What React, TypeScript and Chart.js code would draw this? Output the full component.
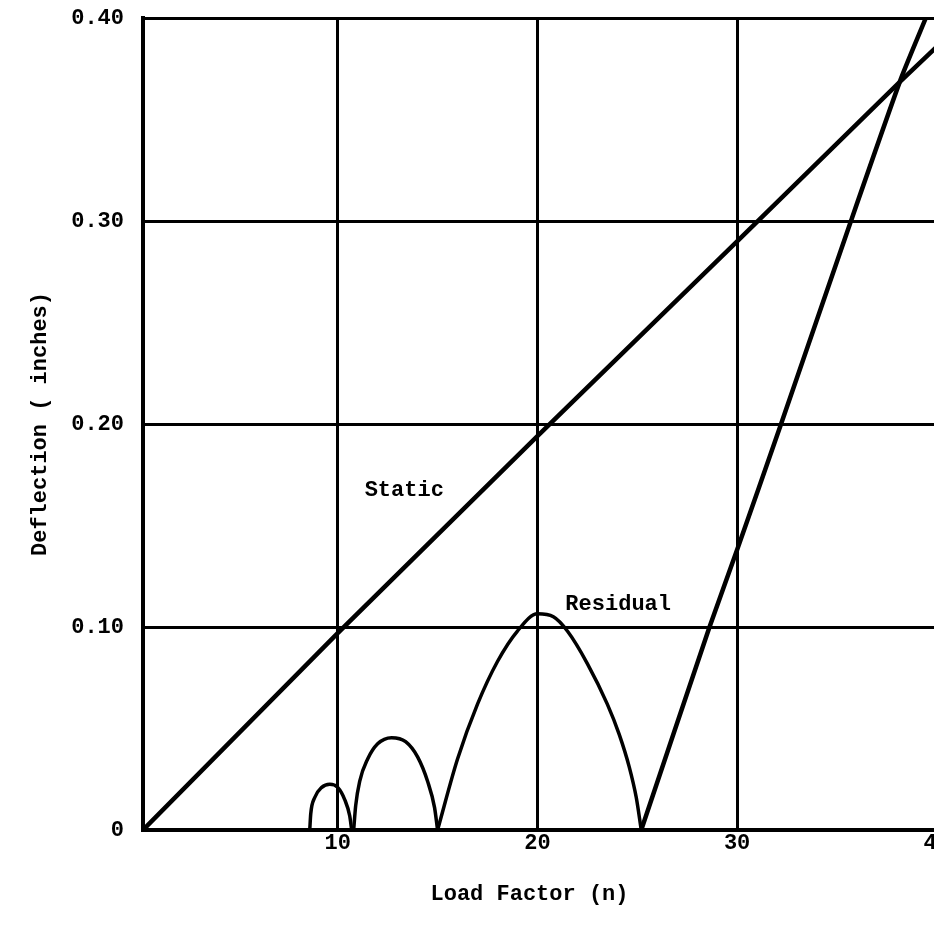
import React, { useEffect, useRef } from "react";
import { Chart, registerables } from "chart.js";

Chart.register(...registerables);

// ---- Data ----
const staticX = [0.25, 10, 20, 30, 38.2, 40.66];
const staticY = [0, 0.097, 0.194, 0.29, 0.369, 0.392];

const arch1X = [8.6, 8.65, 8.85, 9.2, 9.6, 10.0, 10.35, 10.6, 10.7];
const arch1Y = [0, 0.008, 0.016, 0.021, 0.0225, 0.021, 0.015, 0.007, 0];

const arch2X = [10.8, 10.9, 11.1, 11.5, 12.0, 12.7, 13.4, 14.0, 14.5, 14.85, 15.0];
const arch2Y = [0, 0.012, 0.024, 0.035, 0.0425, 0.0455, 0.0435, 0.036, 0.024, 0.011, 0];

const arch3X = [15.0, 16.0, 17.0, 18.0, 19.0, 20.0, 20.8, 21.5, 22.5, 23.5, 24.1, 24.6, 24.95, 25.2];
const arch3Y = [0, 0.035, 0.062, 0.083, 0.098, 0.1065, 0.105, 0.098, 0.082, 0.062, 0.047, 0.031, 0.016, 0];

const riseX = [25.2, 28.6, 30.0, 32.2, 35.7, 38.2, 39.45];
const riseY = [0, 0.0995, 0.138, 0.2, 0.3, 0.37, 0.4];

const xTickValues = [10, 20, 30, 40];
const xTickLabels = ["10", "20", "30", "40"];
const yTickValues = [0, 0.1, 0.2, 0.3, 0.4];
const yTickLabels = ["0", "0.10", "0.20", "0.30", "0.40"];

const curveLabels = ["Static", "Residual"];
const curveLabelX = [11.35, 21.4];
const curveLabelY = [0.1675, 0.111];

const xTitle = "Load Factor (n)";
const yTitle = "Deflection ( inches)";

const FONT = "'Liberation Mono', 'Courier New', monospace";
const INK = "#000000";
const WEIGHT = "bold";
const TEXT_FONT = `${WEIGHT} 22px ${FONT}`;

function pts(xs: number[], ys: number[]) {
  return xs.map((x, i) => ({ x, y: ys[i] }));
}

const textPlugin = {
  id: "textLayer",
  afterDatasetsDraw(chart: any) {
    const { ctx, scales, chartArea } = chart;
    ctx.save();
    ctx.fillStyle = INK;
    ctx.font = TEXT_FONT;
    ctx.textAlign = "left";
    ctx.textBaseline = "middle";
    curveLabels.forEach((t, i) => {
      ctx.fillText(t, scales.x.getPixelForValue(curveLabelX[i]), scales.y.getPixelForValue(curveLabelY[i]));
    });
    // axis titles
    ctx.textAlign = "center";
    ctx.fillText(xTitle, (chartArea.left + chartArea.right) / 2 - 17, chartArea.bottom + 64);
    ctx.translate(40, (chartArea.top + chartArea.bottom) / 2);
    ctx.rotate(-Math.PI / 2);
    ctx.fillText(yTitle, 0, 0);
    ctx.restore();
  },
};

export default function App() {
  const ref = useRef<HTMLCanvasElement | null>(null);
  useEffect(() => {
    if (!ref.current) return;
    const common = {
      borderColor: INK,
      backgroundColor: INK,
      pointRadius: 0,
      fill: false,
    };
    const chart = new Chart(ref.current, {
      type: "line",
      data: {
        datasets: [
          { ...common, label: "Static", data: pts(staticX, staticY), borderWidth: 4.5, tension: 0 },
          { ...common, label: "Residual 1", data: pts(arch1X, arch1Y), borderWidth: 3.5, cubicInterpolationMode: "monotone" },
          { ...common, label: "Residual 2", data: pts(arch2X, arch2Y), borderWidth: 3.5, cubicInterpolationMode: "monotone" },
          { ...common, label: "Residual 3", data: pts(arch3X, arch3Y), borderWidth: 3.5, cubicInterpolationMode: "monotone" },
          { ...common, label: "Residual 4", data: pts(riseX, riseY), borderWidth: 4.5, tension: 0.2 },
        ],
      },
      options: {
        animation: false,
        responsive: false,
        maintainAspectRatio: false,
        layout: { padding: { top: 18, right: 16, left: 0, bottom: 0 } },
        plugins: { legend: { display: false }, tooltip: { enabled: false } },
        scales: {
          x: {
            type: "linear",
            min: 0.25,
            max: 40.66,
            afterBuildTicks: (axis: any) => {
              axis.ticks = xTickValues.map((v) => ({ value: v }));
            },
            afterFit: (axis: any) => {
              axis.height = 97;
            },
            ticks: {
              color: INK,
              font: { family: FONT, size: 22, weight: WEIGHT },
              padding: 0,
              maxRotation: 0,
              autoSkip: false,
              callback: (v: any) => {
                const i = xTickValues.indexOf(Number(v));
                return i >= 0 ? xTickLabels[i] : "";
              },
            },
            grid: { color: INK, lineWidth: 3, drawTicks: false },
            border: { display: true, color: INK, width: 3.5 },
            title: { display: false },
          },
          y: {
            type: "linear",
            min: 0,
            max: 0.4,
            afterBuildTicks: (axis: any) => {
              axis.ticks = yTickValues.map((v) => ({ value: v }));
            },
            afterFit: (axis: any) => {
              axis.width = 143;
              axis.paddingTop = 0;
              axis.paddingBottom = 0;
            },
            ticks: {
              color: INK,
              font: { family: FONT, size: 22, weight: WEIGHT },
              padding: 19,
              autoSkip: false,
              callback: (v: any) => {
                const i = yTickValues.findIndex((t) => Math.abs(t - Number(v)) < 1e-9);
                return i >= 0 ? yTickLabels[i] : "";
              },
            },
            grid: { color: INK, lineWidth: 3, drawTicks: false },
            border: { display: true, color: INK, width: 4 },
            title: { display: false },
          },
        },
      },
      plugins: [textPlugin],
    } as any);
    return () => chart.destroy();
  }, []);

  return (
    <div
      style={{
        position: "fixed",
        left: 0,
        top: 0,
        width: 934,
        height: 927,
        overflow: "hidden",
        background: "#ffffff",
      }}
    >
      <canvas ref={ref} width={966} height={927} style={{ display: "block", width: 966, height: 927 }} />
    </div>
  );
}
